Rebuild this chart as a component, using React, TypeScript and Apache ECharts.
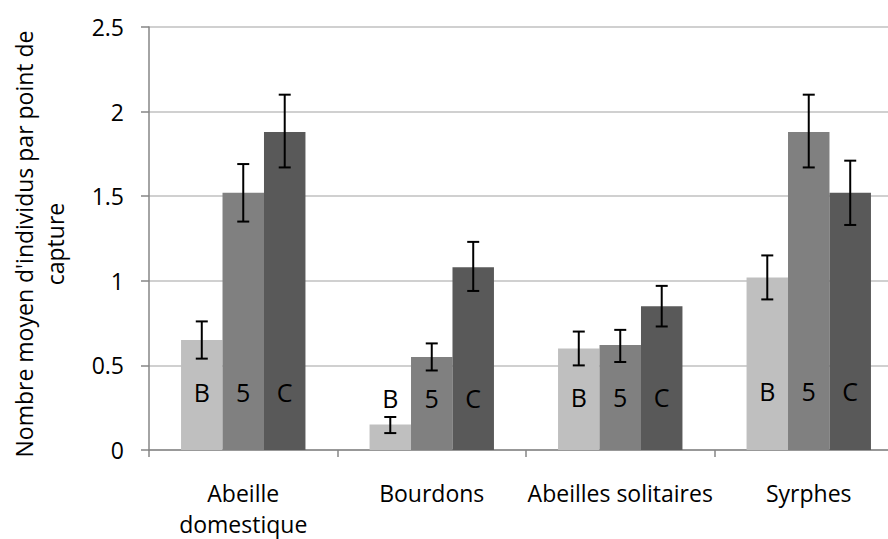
import React, { useEffect, useRef } from "react";
import * as echarts from "echarts";

const categories = ["Abeille\ndomestique", "Bourdons", "Abeilles solitaires", "Syrphes"];
const seriesNames = ["B", "5", "C"];
const valuesB = [0.65, 0.15, 0.6, 1.02];
const values5 = [1.52, 0.55, 0.62, 1.88];
const valuesC = [1.88, 1.08, 0.85, 1.52];
const errLowB = [0.54, 0.1, 0.5, 0.89];
const errHighB = [0.76, 0.195, 0.7, 1.15];
const errLow5 = [1.35, 0.47, 0.52, 1.67];
const errHigh5 = [1.69, 0.63, 0.71, 2.1];
const errLowC = [1.67, 0.94, 0.73, 1.33];
const errHighC = [2.1, 1.23, 0.97, 1.71];
const yTicks = [0, 0.5, 1, 1.5, 2, 2.5];
const yTitle = "Nombre moyen d'individus par point de\ncapture";

const FONT = "'Open Sans', 'Noto Sans', sans-serif";
const colors = ["#bfbfbf", "#808080", "#595959"];
const labelLift = [46, 40, 41, 47];
const CAT_GAP = 0.34;

export default function App() {
  const ref = useRef<HTMLDivElement>(null);
  useEffect(() => {
    if (!ref.current) return;
    document.body.style.margin = "0";
    document.body.style.overflow = "hidden";
    const chart = echarts.init(ref.current, undefined, { renderer: "svg" });
    const values = [valuesB, values5, valuesC];
    const lows = [errLowB, errLow5, errLowC];
    const highs = [errHighB, errHigh5, errHighC];

    const barSeries = seriesNames.map((name, si) => ({
      type: "bar",
      name,
      barGap: "0%",
      barCategoryGap: CAT_GAP * 100 + "%",
      itemStyle: { color: colors[si] },
      data: values[si].map((v, ci) => ({
        value: v,
        label: {
          show: true,
          position: "insideBottom",
          distance: labelLift[ci],
          formatter: name,
          color: "#000",
          fontSize: 25,
          fontFamily: FONT,
        },
      })),
      z: 2,
    }));

    const errSeries = seriesNames.map((name, si) => ({
      type: "custom",
      name: name + "-err",
      z: 5,
      data: lows[si].map((lo, ci) => [ci, lo, highs[si][ci]]),
      encode: { x: 0, y: [1, 2] },
      renderItem: (params: any, api: any) => {
        const ci = api.value(0);
        const lo = api.coord([ci, api.value(1)]);
        const hi = api.coord([ci, api.value(2)]);
        const band = api.size([1, 0])[0];
        const barW = (band * (1 - CAT_GAP)) / 3;
        const x = lo[0] + (si - 1) * barW;
        const cap = 6;
        const style = { stroke: "#000", lineWidth: 2 };
        return {
          type: "group",
          children: [
            { type: "line", shape: { x1: x, y1: lo[1], x2: x, y2: hi[1] }, style },
            { type: "line", shape: { x1: x - cap, y1: lo[1], x2: x + cap, y2: lo[1] }, style },
            { type: "line", shape: { x1: x - cap, y1: hi[1], x2: x + cap, y2: hi[1] }, style },
          ],
        };
      },
    }));

    chart.setOption({
      animation: false,
      grid: { left: 149, top: 27, bottom: 86, right: 7 },
      xAxis: {
        type: "category",
        data: categories,
        axisLine: { lineStyle: { color: "#868686", width: 1.5 } },
        axisTick: { show: true, length: 7, lineStyle: { color: "#868686", width: 1.5 } },
        axisLabel: {
          interval: 0,
          margin: 27,
          color: "#000",
          fontSize: 23,
          lineHeight: 31,
          fontFamily: FONT,
        },
      },
      yAxis: {
        type: "value",
        min: yTicks[0],
        max: yTicks[yTicks.length - 1],
        interval: 0.5,
        axisLine: { show: true, lineStyle: { color: "#868686", width: 1.5 } },
        axisTick: { show: true, length: 8, lineStyle: { color: "#868686", width: 1.5 } },
        axisLabel: { margin: 25, color: "#000", fontSize: 23, fontFamily: FONT },
        splitLine: { lineStyle: { color: "#c0c0c0", width: 1.5 } },
      },
      graphic: [
        {
          type: "text",
          x: 39,
          y: 244,
          rotation: Math.PI / 2,
          style: {
            text: yTitle,
            fontSize: 23,
            lineHeight: 31,
            fontFamily: FONT,
            fill: "#000",
            align: "center",
            verticalAlign: "middle",
          },
        },
      ],
      series: [...barSeries, ...errSeries],
    });
    return () => chart.dispose();
  }, []);
  return (
    <div style={{ position: "absolute", left: 0, top: 0, width: 888, height: 539, overflow: "hidden", background: "#fff" }}>
      <div ref={ref} style={{ position: "absolute", left: 0, top: 0, width: 910, height: 539 }} />
    </div>
  );
}
